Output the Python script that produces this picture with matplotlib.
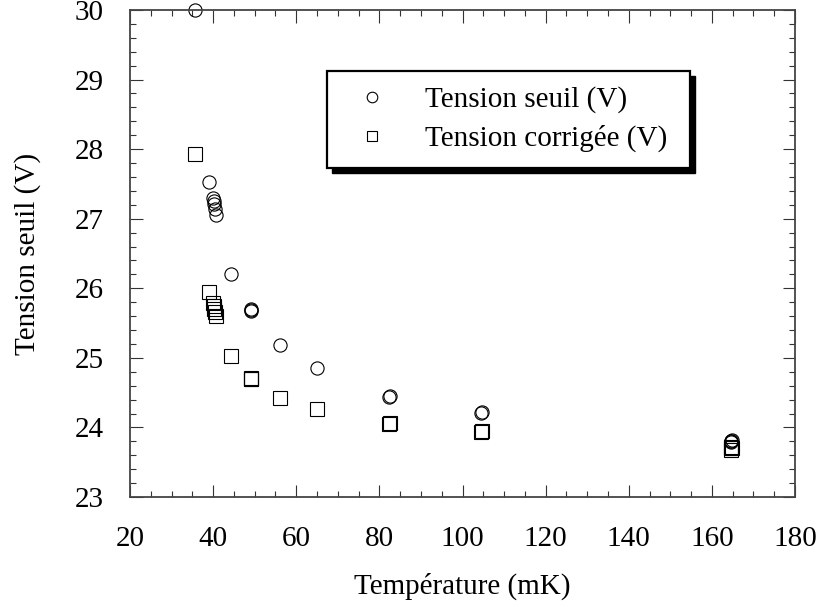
import matplotlib
matplotlib.use("Agg")
import matplotlib.pyplot as plt
from matplotlib.patches import Rectangle
from matplotlib.ticker import MultipleLocator

# Data
temp_seuil = [35.6, 39.0, 39.9, 40.1, 40.3, 40.5, 40.7, 44.4, 49.0, 49.1, 49.2,
              56.1, 64.9, 82.3, 82.5, 104.5, 104.7, 164.5, 164.6, 164.7, 164.8]
tension_seuil = [30.0, 27.53, 27.30, 27.26, 27.21, 27.14, 27.05, 26.21, 25.69, 25.68, 25.70,
                 25.18, 24.86, 24.44, 24.45, 24.21, 24.22, 23.80, 23.81, 23.79, 23.82]
temp_corr = [35.6, 39.0, 39.9, 40.1, 40.3, 40.5, 40.7, 44.4, 49.0, 49.1, 49.2,
             56.1, 64.9, 82.3, 82.5, 104.5, 104.7, 164.5, 164.6, 164.7, 164.8]
tension_corr = [27.93, 25.95, 25.79, 25.75, 25.70, 25.66, 25.60, 25.02, 24.70, 24.69, 24.71,
                24.42, 24.27, 24.05, 24.06, 23.94, 23.95, 23.70, 23.72, 23.68, 23.71]

xlabel = "Température (mK)"
ylabel = "Tension seuil (V)"
label_seuil = "Tension seuil (V)"
label_corr = "Tension corrigée (V)"

plt.rcParams['font.family'] = ['Liberation Serif', 'DejaVu Serif']

fig = plt.figure(figsize=(8.18, 6.07), dpi=100)
ax = fig.add_axes([130/818, 1-497/607, (795-130)/818, (497-10)/607])

ax.plot(temp_seuil, tension_seuil, linestyle='none', marker='o', markersize=9.5,
        markerfacecolor='none', markeredgecolor='black', markeredgewidth=0.8,
        clip_on=False, label=label_seuil)
ax.plot(temp_corr, tension_corr, linestyle='none', marker='s', markersize=9.5,
        markerfacecolor='none', markeredgecolor='black', markeredgewidth=0.8,
        clip_on=False, label=label_corr)

ax.set_xlim(20, 180)
ax.set_ylim(23, 30)
ax.xaxis.set_major_locator(MultipleLocator(20))
ax.xaxis.set_minor_locator(MultipleLocator(5))
ax.yaxis.set_major_locator(MultipleLocator(1))
ax.yaxis.set_minor_locator(MultipleLocator(0.2))

ax.tick_params(which='both', direction='in', top=True, right=True, width=0.8, color='#333333')
ax.tick_params(which='major', length=9, labelsize=21)
ax.tick_params(axis='x', which='major', pad=21)
ax.tick_params(axis='y', which='major', pad=19)
ax.tick_params(which='minor', length=4.5)
for s in ax.spines.values():
    s.set_linewidth(1.3)
    s.set_color('#444444')

ax.set_xlabel(xlabel, fontsize=21, labelpad=15)
ax.set_ylabel(ylabel, fontsize=21, labelpad=24)

# Legend box with solid shadow
bx0, by0 = 327/818, 1-168/607
bw, bh = (690-327)/818, (168-71)/607
ax.add_patch(Rectangle((bx0+5/818, by0-5/607), bw, bh, transform=fig.transFigure,
                       facecolor='black', edgecolor='black', zorder=5, clip_on=False))
ax.add_patch(Rectangle((bx0, by0), bw, bh, transform=fig.transFigure,
                       facecolor='white', edgecolor='black', linewidth=1.6, zorder=6, clip_on=False))
leg = ax.legend(loc='center', bbox_to_anchor=(bx0+bw/2, by0+bh/2), bbox_transform=fig.transFigure,
                frameon=False, fontsize=21, numpoints=1, markerscale=0.8,
                handlelength=1.47, handletextpad=1.08, labelspacing=0.4)
leg.set_zorder(7)

fig.savefig("out.png", dpi=100)
